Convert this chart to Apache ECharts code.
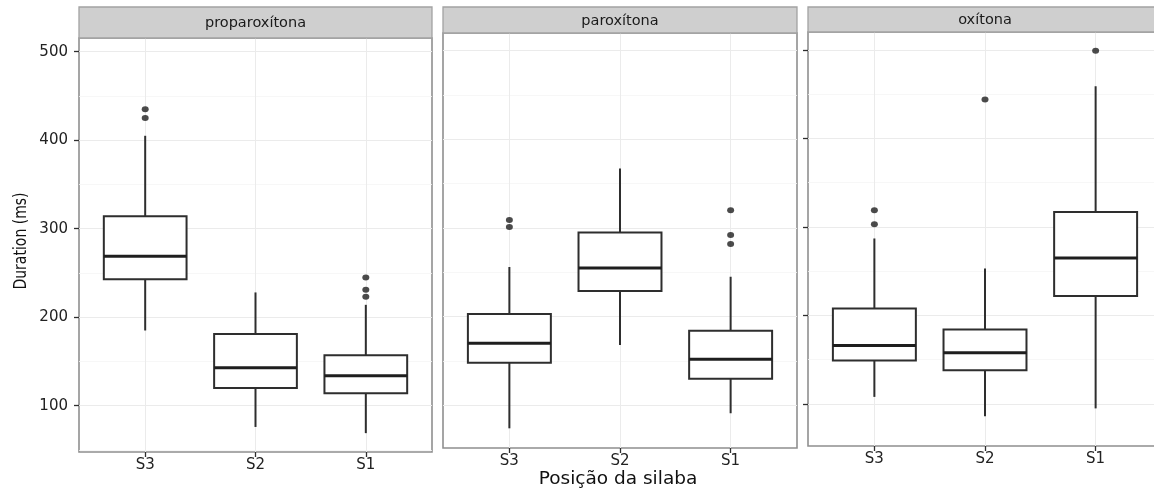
<!DOCTYPE html>
<html>
<head>
<meta charset="utf-8">
<script src="https://cdn.jsdelivr.net/npm/echarts@6/dist/echarts.min.js"></script>
<style>
html,body{margin:0;padding:0;background:#fff;}
#chart{width:1154px;height:490px;}
</style>
</head>
<body>
<div id="chart"></div>
<script>
// ---------- data ----------
const facets = ['proparoxítona', 'paroxítona', 'oxítona'];
const positions = ['S3', 'S2', 'S1'];
const yTicks = [100, 200, 300, 400, 500];
const yMinorTicks = [50, 150, 250, 350, 450];
const yTitle = 'Duration (ms)';
const xTitle = 'Posição da silaba';

// [lower whisker, Q1, median, Q3, upper whisker] for S3, S2, S1
const boxProparoxitona = [
  [185, 243, 269, 314, 405],
  [76, 120, 143, 181, 228],
  [69, 114, 134, 157, 214]
];
const boxParoxitona = [
  [74, 148, 170, 203, 256],
  [168, 229, 255, 295, 367],
  [91, 130, 152, 184, 245]
];
const boxOxitona = [
  [108, 149, 166, 208, 287],
  [86, 138, 158, 184, 253],
  [95, 222, 265, 317, 459]
];

// outliers: [position, value]
const outProparoxitona = [['S3', 435], ['S3', 425], ['S1', 245], ['S1', 231], ['S1', 223]];
const outParoxitona = [['S3', 309], ['S3', 301], ['S1', 320], ['S1', 292], ['S1', 282]];
const outOxitona = [['S3', 319], ['S3', 303], ['S2', 444], ['S1', 499]];

const boxes = [boxProparoxitona, boxParoxitona, boxOxitona];
const outs = [outProparoxitona, outParoxitona, outOxitona];

// ---------- layout ----------
const panels = [
  {left: 79, top: 38, width: 353, height: 414, ymin: 47.7, ymax: 515.5, strip: [79, 7, 353, 31], yLabels: true, yTicksShow: true},
  {left: 443, top: 33, width: 354, height: 415, ymin: 51.8, ymax: 520.0, strip: [443, 7, 354, 26], yLabels: false, yTicksShow: false},
  {left: 808, top: 32, width: 354, height: 414, ymin: 52.5, ymax: 520.3, strip: [808, 7, 354, 25], yLabels: false, yTicksShow: true}
];

const FONT = '"DejaVu Sans", Verdana, sans-serif';
const INK = '#2e2e2e';
const LABEL = '#222222';

const grid = [], xAxis = [], yAxis = [], series = [], graphics = [];

panels.forEach((p, i) => {
  grid.push({
    left: p.left, top: p.top, width: p.width, height: p.height,
    show: true, backgroundColor: '#ffffff', borderColor: '#8f8f8f', borderWidth: 1.6,
    containLabel: false, outerBoundsMode: 'none'
  });
  xAxis.push({
    type: 'value', gridIndex: i, min: 0.4, max: 3.6,
    axisLine: {show: false},
    axisTick: {show: true, length: 5, customValues: [1, 2, 3], lineStyle: {color: INK, width: 1.3}},
    axisLabel: {show: true, customValues: [1, 2, 3], margin: 6,
      formatter: v => positions[Math.round(v) - 1],
      fontFamily: FONT, fontSize: 15, color: LABEL},
    splitLine: {show: true, lineStyle: {color: '#ebebeb', width: 1}}
  });
  // major y axis
  yAxis.push({
    type: 'value', gridIndex: i, min: p.ymin, max: p.ymax,
    axisLine: {show: false},
    axisTick: {show: p.yTicksShow, length: 5, customValues: yTicks, lineStyle: {color: INK, width: 1.3}},
    axisLabel: {show: p.yLabels, customValues: yTicks, margin: 11, fontFamily: FONT, fontSize: 15, color: LABEL},
    splitLine: {show: true, lineStyle: {color: '#ebebeb', width: 1}}
  });
  // minor y grid
  yAxis.push({
    type: 'value', gridIndex: i, min: p.ymin, max: p.ymax, position: 'left',
    axisLine: {show: false},
    axisTick: {show: false, customValues: yMinorTicks},
    axisLabel: {show: false, customValues: yMinorTicks},
    splitLine: {show: true, lineStyle: {color: '#f5f5f5', width: 0.8}}
  });

  const boxData = boxes[i].map((b, k) => [k + 1, b[0], b[1], b[2], b[3], b[4]]);
  series.push({
    type: 'custom', xAxisIndex: i, yAxisIndex: i * 2,
    data: boxData, encode: {x: 0, y: [1, 2, 3, 4, 5]},
    clip: false, z: 3,
    renderItem: function (params, api) {
      const x = api.value(0);
      const lo = api.coord([x, api.value(1)]);
      const q1 = api.coord([x, api.value(2)]);
      const md = api.coord([x, api.value(3)]);
      const q3 = api.coord([x, api.value(4)]);
      const hi = api.coord([x, api.value(5)]);
      const w = api.size([0.75, 0])[0];
      const ls = {stroke: INK, lineWidth: 2, fill: null};
      return {
        type: 'group',
        children: [
          {type: 'line', shape: {x1: lo[0], y1: lo[1], x2: q1[0], y2: q1[1]}, style: ls},
          {type: 'line', shape: {x1: q3[0], y1: q3[1], x2: hi[0], y2: hi[1]}, style: ls},
          {type: 'rect', shape: {x: q1[0] - w / 2, y: q3[1], width: w, height: q1[1] - q3[1]},
            style: {fill: '#ffffff', stroke: INK, lineWidth: 2}},
          {type: 'line', shape: {x1: md[0] - w / 2, y1: md[1], x2: md[0] + w / 2, y2: md[1]},
            style: {stroke: '#1e1e1e', lineWidth: 3}}
        ]
      };
    }
  });
  series.push({
    type: 'scatter', xAxisIndex: i, yAxisIndex: i * 2, z: 4,
    symbol: 'circle', symbolSize: [7, 6],
    itemStyle: {color: '#1e1e1e'},
    data: outs[i].map(o => [positions.indexOf(o[0]) + 1, o[1]])
  });

  // strip
  graphics.push({
    type: 'rect', z: 10,
    shape: {x: p.strip[0], y: p.strip[1], width: p.strip[2], height: p.strip[3]},
    style: {fill: '#cfcfcf', stroke: '#a3a3a3', lineWidth: 1.3}
  });
  graphics.push({
    type: 'text', z: 11,
    x: p.strip[0] + p.strip[2] / 2, y: p.strip[1] + p.strip[3] / 2 + 1,
    style: {text: facets[i], fontFamily: FONT, fontSize: 14.5, fill: '#1a1a1a', align: 'center', verticalAlign: 'middle'}
  });
});

graphics.push({
  type: 'text', z: 11, x: 22, y: 241, rotation: Math.PI / 2, scaleY: 1.2,
  style: {text: yTitle, fontFamily: FONT, fontSize: 14, fill: '#111', align: 'center', verticalAlign: 'middle'}
});
graphics.push({
  type: 'text', z: 11, x: 618, y: 479,
  style: {text: xTitle, fontFamily: FONT, fontSize: 18.5, fill: '#111', align: 'center', verticalAlign: 'middle'}
});

const chart = echarts.init(document.getElementById('chart'), null, {renderer: 'canvas'});
chart.setOption({
  animation: false,
  backgroundColor: '#ffffff',
  grid, xAxis, yAxis, series,
  graphic: graphics
});
</script>
</body>
</html>
